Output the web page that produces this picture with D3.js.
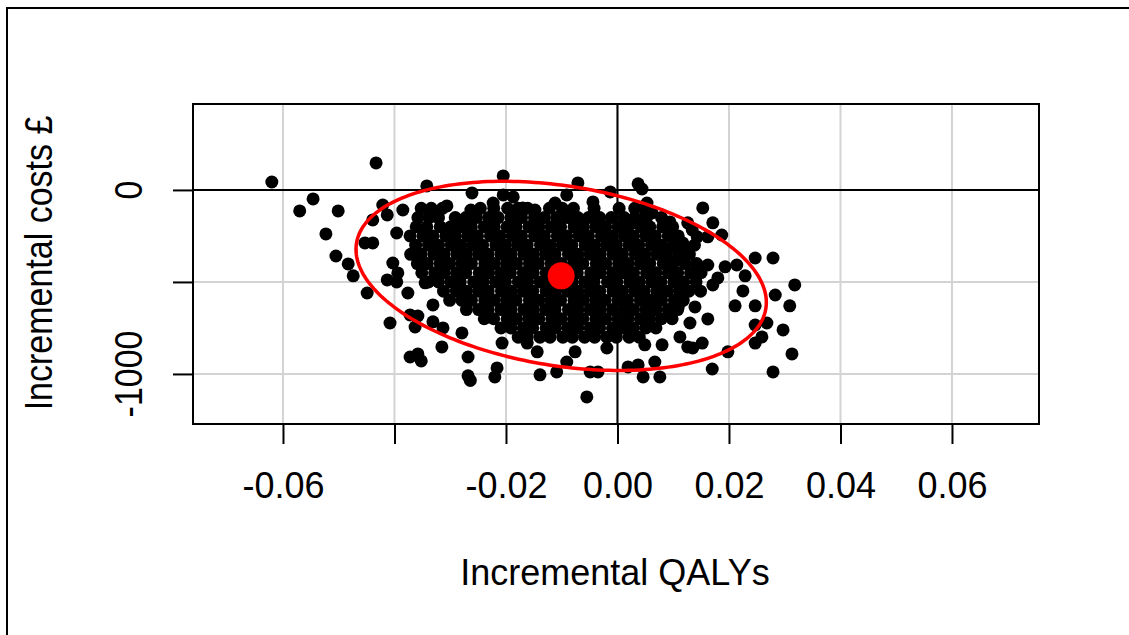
<!DOCTYPE html>
<html>
<head>
<meta charset="utf-8">
<script src="https://cdn.jsdelivr.net/npm/d3@7"></script>
<style>
  body { margin: 0; background: #fff; }
  svg text { font-family: "Liberation Sans", Arial, sans-serif; fill: #000; }
</style>
</head>
<body>
<svg id="chart" width="1129" height="635"></svg>
<script>
// axis ticks (R drops the labels that would overlap)
var xTicks = [-0.06, -0.04, -0.02, 0, 0.02, 0.04, 0.06];
var xTickLabels = ["-0.06", "", "-0.02", "0.00", "0.02", "0.04", "0.06"];
var yTicks = [-1000, -500, 0];
var yTickLabels = ["-1000", "", "0"];

// mean of the bootstrap draws and its ellipse (sd qaly, sd cost, correlation)
var meanPoint = [-0.0101, -467];
var ellipseSd = [0.0368, 514];
var ellipseCorr = -0.28;

// dense middle of the cloud, read row by row: cost and the qaly values on that row
var cloudRows = [
  {cost: -100, qaly: [-0.0352, -0.0334, -0.0314, -0.0246, -0.0222, -0.0197, -0.0178, -0.0161, -0.0122, -0.0099, -0.0079, -0.0042, 0.0003, 0.0031, 0.0048]},
  {cost: -150, qaly: [-0.0358, -0.0338, -0.0321, -0.0291, -0.0272, -0.0253, -0.0231, -0.0214, -0.0191, -0.0172, -0.0149, -0.0131, -0.0109, -0.0089, -0.0071, -0.0052, -0.0032, -0.0011, 0.0012, 0.0031, 0.0052, 0.0079]},
  {cost: -200, qaly: [-0.0361, -0.0342, -0.0318, -0.0299, -0.0281, -0.0262, -0.0239, -0.0221, -0.0198, -0.0182, -0.0159, -0.0141, -0.0119, -0.0102, -0.0078, -0.0061, -0.0039, -0.0021, 0.0001, 0.0019, 0.0042, 0.0058, 0.0081, 0.0099]},
  {cost: -250, qaly: [-0.0372, -0.0349, -0.0331, -0.0308, -0.0291, -0.0269, -0.0251, -0.0228, -0.0211, -0.0189, -0.0172, -0.0149, -0.0131, -0.0108, -0.0091, -0.0069, -0.0052, -0.0029, -0.0011, 0.0012, 0.0029, 0.0051, 0.0068, 0.0091, 0.0109]},
  {cost: -300, qaly: [-0.0362, -0.0339, -0.0321, -0.0298, -0.0281, -0.0259, -0.0242, -0.0218, -0.0201, -0.0179, -0.0162, -0.0138, -0.0121, -0.0099, -0.0082, -0.0058, -0.0041, -0.0019, -0.0002, 0.0021, 0.0038, 0.0061, 0.0079, 0.0101, 0.0118, 0.0138]},
  {cost: -350, qaly: [-0.0371, -0.0352, -0.0329, -0.0311, -0.0288, -0.0271, -0.0249, -0.0232, -0.0209, -0.0191, -0.0168, -0.0151, -0.0129, -0.0112, -0.0088, -0.0071, -0.0049, -0.0031, -0.0008, 0.0009, 0.0032, 0.0049, 0.0071, 0.0088, 0.0111, 0.0129]},
  {cost: -400, qaly: [-0.0359, -0.0341, -0.0318, -0.0301, -0.0279, -0.0262, -0.0238, -0.0221, -0.0199, -0.0181, -0.0158, -0.0142, -0.0119, -0.0101, -0.0079, -0.0062, -0.0038, -0.0021, 0.0002, 0.0019, 0.0041, 0.0058, 0.0082, 0.0099, 0.0121, 0.0142]},
  {cost: -450, qaly: [-0.0351, -0.0328, -0.0311, -0.0289, -0.0272, -0.0248, -0.0231, -0.0209, -0.0192, -0.0169, -0.0151, -0.0128, -0.0111, -0.0089, -0.0072, -0.0048, -0.0031, -0.0009, 0.0011, 0.0029, 0.0052, 0.0069, 0.0091, 0.0108, 0.0131, 0.0150]},
  {cost: -500, qaly: [-0.0339, -0.0321, -0.0299, -0.0282, -0.0258, -0.0241, -0.0219, -0.0201, -0.0178, -0.0161, -0.0139, -0.0122, -0.0098, -0.0081, -0.0059, -0.0042, -0.0018, -0.0001, 0.0022, 0.0039, 0.0061, 0.0078, 0.0101, 0.0119, 0.0141]},
  {cost: -550, qaly: [-0.0312, -0.0289, -0.0271, -0.0249, -0.0232, -0.0208, -0.0191, -0.0169, -0.0152, -0.0128, -0.0111, -0.0089, -0.0071, -0.0049, -0.0032, -0.0008, 0.0009, 0.0031, 0.0048, 0.0071, 0.0089, 0.0111, 0.0128, 0.0149]},
  {cost: -600, qaly: [-0.0301, -0.0279, -0.0262, -0.0238, -0.0221, -0.0199, -0.0182, -0.0158, -0.0141, -0.0119, -0.0102, -0.0078, -0.0061, -0.0039, -0.0022, 0.0001, 0.0018, 0.0041, 0.0059, 0.0079, 0.0102, 0.0118]},
  {cost: -650, qaly: [-0.0271, -0.0249, -0.0232, -0.0209, -0.0191, -0.0168, -0.0151, -0.0129, -0.0112, -0.0088, -0.0071, -0.0049, -0.0031, -0.0009, 0.0012, 0.0029, 0.0051, 0.0069, 0.0091, 0.0108]},
  {cost: -700, qaly: [-0.0239, -0.0222, -0.0198, -0.0181, -0.0159, -0.0141, -0.0118, -0.0101, -0.0079, -0.0062, -0.0039, -0.0021, 0.0001, 0.0019, 0.0041, 0.0058, 0.0079, 0.0098]},
  {cost: -750, qaly: [-0.0209, -0.0191, -0.0169, -0.0152, -0.0128, -0.0111, -0.0089, -0.0071, -0.0049, -0.0032, -0.0009, 0.0011, 0.0029, 0.0051, 0.0069]},
  {cost: -800, qaly: [-0.0178, -0.0162, -0.0139, -0.0121, -0.0098, -0.0081, -0.0059, -0.0041, -0.0019, -0.0002, 0.0021, 0.0039]}
];

// the scattered draws round the edge of the cloud: [qaly, cost]
var tailDraws = [
  [-0.0620, 43], [-0.0433, 147], [-0.0546, -49], [-0.0570, -114], [-0.0501, -114], [-0.0523, -239],
  [-0.0505, -359], [-0.0483, -402], [-0.0474, -467], [-0.0453, -288], [-0.0439, -288], [-0.0439, -163],
  [-0.0421, -82], [-0.0413, -136], [-0.0385, -109], [-0.0342, 22], [-0.0306, -87], [-0.0261, -16],
  [-0.0263, -109], [-0.0396, -234], [-0.0403, -397], [-0.0413, -489], [-0.0394, -451], [-0.0449, -560],
  [-0.0408, -723], [-0.0396, -500], [-0.0376, -560], [-0.0372, -679], [-0.0358, -685], [-0.0363, -745],
  [-0.0372, -908], [-0.0358, -891], [-0.0352, -929], [-0.0315, -853], [-0.0345, -505], [-0.0331, -625],
  [-0.0331, -717], [-0.0313, -750], [-0.0279, -777], [-0.0268, -908], [-0.0268, -1010], [-0.0264, -1035],
  [-0.0205, 76], [-0.0071, 38], [0.0037, 33], [0.0044, 5], [-0.0013, -11], [-0.0223, -71],
  [-0.0187, -38], [-0.0205, -27], [-0.0112, -71], [-0.0091, -27], [-0.0044, -65], [0.0053, -71],
  [0.0049, -147], [0.0028, -179], [-0.0148, -109], [-0.0170, -98], [0.0062, -125], [0.0153, -98],
  [0.0171, -179], [0.0187, -245], [0.0094, -174], [0.0126, -179], [0.0134, -217], [0.0143, -255],
  [0.0162, -255], [0.0117, -288], [0.0247, -370], [0.0279, -370], [0.0214, -408], [0.0193, -418],
  [0.0229, -467], [0.0162, -408], [0.0143, -408], [0.0180, -478], [0.0171, -516], [0.0225, -549],
  [0.0318, -516], [0.0283, -571], [0.0107, -380], [0.0098, -310], [0.0211, -630], [0.0247, -630],
  [0.0309, -630], [0.0162, -701], [0.0268, -723], [0.0297, -761], [0.0247, -734], [0.0259, -799],
  [0.0247, -832], [0.0198, -880], [0.0313, -891], [0.0279, -989], [0.0170, -973], [0.0152, -832],
  [0.0126, -853], [0.0135, -859], [0.0049, -842], [0.0080, -842], [0.0067, -935], [0.0046, -1016],
  [0.0076, -1016], [0.0112, -799], [0.0130, -723], [0.0109, -636], [0.0139, -636], [-0.0207, -832],
  [-0.0216, -967], [-0.0220, -1016], [-0.0162, -832], [-0.0144, -880], [-0.0139, -1005], [-0.0109, -989],
  [-0.0055, -1125], [-0.0049, -989], [-0.0035, -989], [-0.0019, -859], [0.0019, -962], [0.0037, -951],
  [-0.0091, -935], [-0.0076, -880], [-0.0125, -788]
];

var xLabel = "Incremental QALYs";
var yLabel = "Incremental costs £";

// layout
var box = {left: 193, right: 1039, top: 104, bottom: 424};
var svg = d3.select("#chart");

var x = d3.scaleLinear().domain([-0.07614, 0.07561]).range([box.left, box.right]);
var y = d3.scaleLinear().domain([-1272, 467]).range([box.bottom, box.top]);

// all the draws in one list
var draws = [];
cloudRows.forEach(function(row){
  row.qaly.forEach(function(q){ draws.push([q, row.cost]); });
});
tailDraws.forEach(function(d){ draws.push(d); });

// outer frame (only top and left edge are inside the picture)
svg.append("path")
  .attr("d", "M7,635 L7,8 L1129,8")
  .attr("fill", "none").attr("stroke", "#000").attr("stroke-width", 2);

// grid
svg.append("g").selectAll("line").data(xTicks).enter().append("line")
  .attr("x1", function(d){ return x(d); }).attr("x2", function(d){ return x(d); })
  .attr("y1", box.top).attr("y2", box.bottom)
  .attr("stroke", "#d3d3d3").attr("stroke-width", 2);
svg.append("g").selectAll("line").data(yTicks).enter().append("line")
  .attr("x1", box.left).attr("x2", box.right)
  .attr("y1", function(d){ return y(d); }).attr("y2", function(d){ return y(d); })
  .attr("stroke", "#d3d3d3").attr("stroke-width", 2);

// zero lines
svg.append("line").attr("x1", box.left).attr("x2", box.right).attr("y1", y(0)).attr("y2", y(0))
  .attr("stroke", "#000").attr("stroke-width", 2);
svg.append("line").attr("x1", x(0)).attr("x2", x(0)).attr("y1", box.top).attr("y2", box.bottom)
  .attr("stroke", "#000").attr("stroke-width", 2);

// points
svg.append("g").selectAll("circle").data(draws).enter().append("circle")
  .attr("cx", function(d){ return x(d[0]); })
  .attr("cy", function(d){ return y(d[1]); })
  .attr("r", 6.5)
  .attr("fill", "#000");

// ellipse round the mean
var angles = d3.range(0, 2 * Math.PI, Math.PI / 120);
var phase = Math.acos(ellipseCorr);
var ellipsePts = angles.map(function(t){
  return [meanPoint[0] + ellipseSd[0] * Math.cos(t), meanPoint[1] + ellipseSd[1] * Math.cos(t + phase)];
});
svg.append("path")
  .datum(ellipsePts)
  .attr("d", d3.line().x(function(d){ return x(d[0]); }).y(function(d){ return y(d[1]); }).curve(d3.curveLinearClosed))
  .attr("fill", "none").attr("stroke", "#ff0000").attr("stroke-width", 3.5);

svg.append("circle")
  .attr("cx", x(meanPoint[0])).attr("cy", y(meanPoint[1]))
  .attr("r", 13.5).attr("fill", "#ff0000");

// plot box
svg.append("rect")
  .attr("x", box.left).attr("y", box.top)
  .attr("width", box.right - box.left).attr("height", box.bottom - box.top)
  .attr("fill", "none").attr("stroke", "#000").attr("stroke-width", 2);

// x axis
var xAxis = svg.append("g")
  .attr("transform", "translate(0," + box.bottom + ")")
  .call(d3.axisBottom(x).tickValues(xTicks).tickSize(20).tickSizeOuter(0).tickPadding(28)
    .tickFormat(function(d, i){ return xTickLabels[i]; }));
xAxis.select(".domain").remove();
xAxis.selectAll("line").attr("stroke-width", 2);
xAxis.selectAll("text").attr("font-size", 36).attr("font-family", null);

// y axis, labels turned like R does
var yAxis = svg.append("g")
  .attr("transform", "translate(" + box.left + ",0)")
  .call(d3.axisLeft(y).tickValues(yTicks).tickSize(20).tickSizeOuter(0).tickFormat(""));
yAxis.select(".domain").remove();
yAxis.selectAll("line").attr("stroke-width", 2);

svg.append("g").selectAll("text").data(yTicks).enter().append("text")
  .attr("transform", function(d){ return "translate(142," + y(d) + ") scale(1.15,1) rotate(-90)"; })
  .attr("text-anchor", "middle")
  .attr("font-size", 34)
  .text(function(d, i){ return yTickLabels[i]; });

// axis titles
svg.append("text")
  .attr("x", 615).attr("y", 585)
  .attr("text-anchor", "middle")
  .attr("font-size", 36)
  .text(xLabel);

svg.append("text")
  .attr("transform", "translate(52,263) scale(1.15,1) rotate(-90)")
  .attr("text-anchor", "middle")
  .attr("font-size", 34)
  .text(yLabel);
</script>
</body>
</html>
